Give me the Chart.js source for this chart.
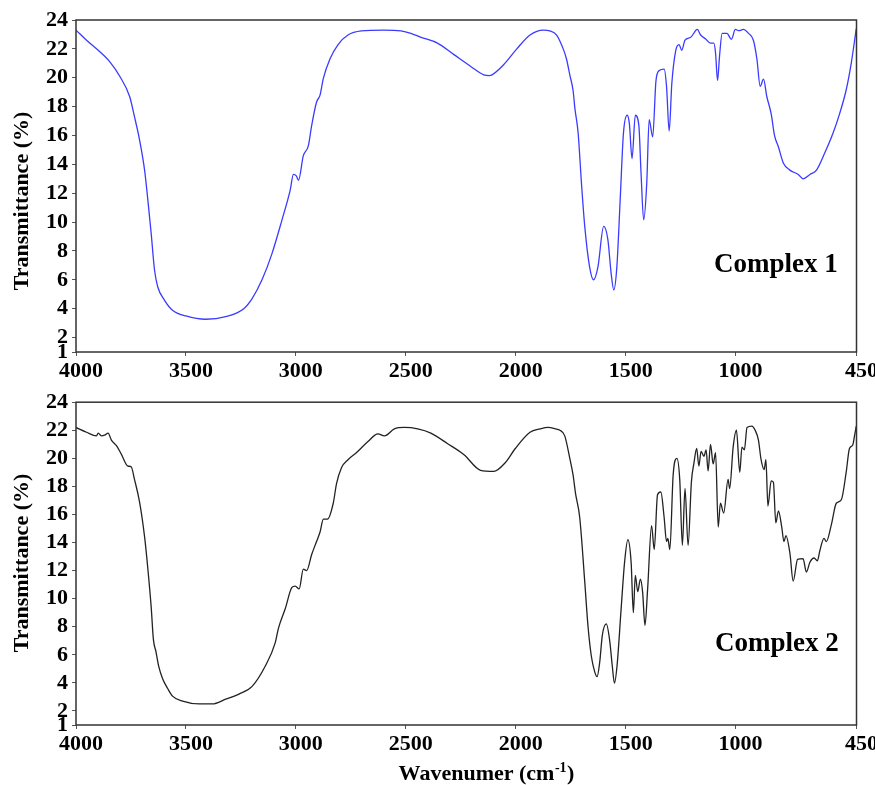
<!DOCTYPE html>
<html>
<head>
<meta charset="utf-8">
<script src="https://cdn.jsdelivr.net/npm/chart.js@4"></script>
<style>
  html, body { margin: 0; padding: 0; background: #fff; }
  #wrap { position: relative; width: 875px; height: 785px; overflow: hidden; }
  #c1 { position: absolute; left: 0; top: 0; }
  #c2 { position: absolute; left: 0; top: 385px; }
</style>
</head>
<body>
<div id="wrap">
  <canvas id="c1" width="875" height="385"></canvas>
  <canvas id="c2" width="875" height="400"></canvas>
</div>
<script>
// ---- data ----
const xTickValues = [4000, 3500, 3000, 2500, 2000, 1500, 1000, 450];
const yTickValues = [1, 2, 4, 6, 8, 10, 12, 14, 16, 18, 20, 22, 24];

const seriesName1 = "Complex 1";
const wavenumber1 = [4000,3952,3899,3846,3801,3756,3734,3711,3688,3673,3658,3643,3628,3598,3561,3500,3410,3319,3237,3199,3154,3109,3064,3026,3011,2998,2988,2966,2943,2928,2906,2890,2875,2845,2808,2763,2702,2600,2522,2477,2431,2356,2281,2206,2145,2120,2108,2055,1995,1935,1874,1845,1814,1784,1769,1754,1739,1731,1716,1701,1686,1664,1646,1626,1600,1581,1566,1554,1540,1525,1510,1493,1483,1471,1456,1440,1430,1418,1404,1393,1377,1362,1347,1325,1314,1302,1290,1272,1257,1245,1230,1204,1174,1159,1137,1114,1099,1091,1082,1073,1061,1039,1019,1001,986,964,941,919,903,888,873,858,838,823,805,783,753,715,693,662,632,594,557,527,497,474,451];
const transmittance1 = [23.3,22.6,21.9,21.1,20.1,18.7,17.3,15.7,13.6,11.5,9.2,6.7,5.5,4.6,3.9,3.5,3.27,3.45,4.0,4.7,6.0,7.8,10.1,12.2,13.3,13.2,12.9,14.6,15.3,16.7,18.3,18.8,19.95,21.3,22.3,22.96,23.24,23.3,23.24,23.07,22.8,22.4,21.6,20.8,20.2,20.15,20.2,20.9,22.0,22.96,23.3,23.25,22.96,22.0,21.3,20.2,19.1,17.9,16.15,12.7,9.7,6.9,6.0,6.9,9.7,8.8,6.45,5.3,6.9,11.5,16.15,17.4,16.8,14.4,17.4,16.7,13.4,10.15,12.7,17.1,15.9,19.8,20.5,20.6,19.4,16.3,19.6,21.9,22.3,21.9,22.6,22.8,23.35,22.96,22.7,22.4,22.4,21.7,19.8,21.5,23.07,23.07,22.66,23.35,23.26,23.35,23.07,22.6,21.3,19.4,19.9,18.7,17.5,16.0,15.2,14.1,13.6,13.3,13.0,13.3,13.6,14.8,16.15,17.5,19.15,21.0,23.4];

const seriesName2 = "Complex 2";
const wavenumber2 = [4000,3952,3907,3899,3885,3870,3854,3839,3816,3794,3764,3749,3734,3711,3688,3673,3658,3648,3636,3624,3606,3583,3561,3515,3440,3380,3319,3259,3199,3139,3094,3079,3048,3018,3003,2985,2966,2951,2928,2906,2890,2875,2856,2830,2815,2792,2763,2725,2672,2627,2597,2552,2506,2446,2386,2311,2235,2160,2100,2047,2002,1935,1889,1852,1820,1799,1777,1754,1739,1728,1709,1686,1671,1656,1641,1630,1618,1606,1588,1573,1561,1551,1539,1520,1505,1490,1475,1465,1456,1445,1433,1423,1412,1400,1382,1370,1355,1340,1325,1314,1308,1299,1284,1267,1254,1242,1230,1216,1201,1189,1177,1167,1157,1144,1134,1125,1114,1102,1091,1079,1069,1054,1034,1027,1011,996,981,971,960,948,926,911,896,884,870,862,853,838,828,817,805,790,780,771,753,738,718,693,678,662,643,628,617,598,587,564,542,519,497,482,467,459,451];
const transmittance2 = [22.2,21.86,21.6,21.8,21.6,21.65,21.8,21.3,20.9,20.3,19.45,19.4,18.5,16.9,14.4,12.1,9.4,7.1,6.2,5.2,4.3,3.6,3.06,2.7,2.5,2.5,2.84,3.2,3.75,5.2,6.85,7.9,9.3,10.8,10.9,10.7,12.1,12.0,13.15,14.07,14.75,15.67,15.67,16.8,18.2,19.35,19.9,20.4,21.2,21.75,21.6,22.1,22.2,22.1,21.8,21.06,20.26,19.15,19.07,19.7,20.7,21.86,22.1,22.2,22.1,22.0,21.6,20.0,18.8,17.5,15.8,11.2,8.0,5.9,4.8,4.44,5.47,7.4,8.2,7.07,5.24,3.98,5.24,9.4,12.57,14.2,12.57,9.0,11.66,10.5,11.4,10.5,8.1,10.7,15.2,13.5,17.4,17.6,15.8,14.07,14.3,13.5,18.8,20.0,18.5,13.8,17.85,13.8,18.3,19.7,20.7,19.45,20.5,20.14,20.6,19.1,21.0,19.6,20.4,15.1,16.8,16.1,18.5,17.85,20.8,22.0,19.0,20.8,20.6,22.2,22.3,22.0,21.3,19.9,19.2,19.9,16.6,18.4,18.3,15.4,16.25,15.1,14.07,14.5,13.26,11.25,12.8,12.85,11.9,12.6,12.9,12.7,13.4,14.3,14.07,15.3,16.8,17.05,19.0,20.7,20.95,21.6,22.3];

const yTitle = "Transmittance (%)";
const xTitleMain = "Wavenumer (cm";
const xTitleSup = "-1";
const xTitleEnd = ")";

// ---- drawing ----
const FONT = "'Liberation Serif', 'Times New Roman', serif";

function decorPlugin(opts) {
  return {
    id: 'decor',
    afterDraw(chart) {
      const ctx = chart.ctx;
      const a = chart.chartArea;
      ctx.save();
      // frame
      ctx.strokeStyle = '#333';
      ctx.lineWidth = 1.5;
      ctx.strokeRect(a.left, a.top, a.right - a.left, a.bottom - a.top);
      // y title
      ctx.fillStyle = '#000';
      ctx.font = 'bold 22px ' + FONT;
      ctx.translate(22, opts.yTitleY);
      ctx.rotate(-Math.PI / 2);
      ctx.textAlign = 'center';
      ctx.textBaseline = 'middle';
      ctx.fillText(yTitle, 0, 0);
      ctx.restore();
      // sample label
      ctx.save();
      ctx.fillStyle = '#000';
      ctx.font = 'bold 27px ' + FONT;
      ctx.textAlign = 'left';
      ctx.textBaseline = 'alphabetic';
      ctx.fillText(opts.label, opts.labelX, opts.labelY);
      // x title
      if (opts.xTitle) {
        const big = 'bold 22px ' + FONT, small = 'bold 14px ' + FONT;
        ctx.font = big; const w1 = ctx.measureText(xTitleMain).width;
        const w3 = ctx.measureText(xTitleEnd).width;
        ctx.font = small; const w2 = ctx.measureText(xTitleSup).width;
        let x = opts.xTitleX - (w1 + w2 + w3) / 2;
        const y = opts.xTitleY;
        ctx.font = big; ctx.fillText(xTitleMain, x, y); x += w1;
        ctx.font = small; ctx.fillText(xTitleSup, x + 0.5, y - 8); x += w2 + 1;
        ctx.font = big; ctx.fillText(xTitleEnd, x, y);
      }
      ctx.restore();
    }
  };
}

function makeChart(id, wn, tr, name, color, padTop, xAxisHeight, opts) {
  const pts = wn.map((w, i) => ({ x: w, y: tr[i] }));
  return new Chart(document.getElementById(id), {
    type: 'line',
    data: { datasets: [{
      label: name, data: pts, borderColor: color, borderWidth: 1.3,
      pointRadius: 0, fill: false, cubicInterpolationMode: 'monotone'
    }] },
    options: {
      responsive: false, animation: false, devicePixelRatio: 1,
      layout: { padding: { top: padTop, right: 13, left: 0, bottom: 0 } },
      plugins: { legend: { display: false }, tooltip: { enabled: false } },
      scales: {
        x: {
          type: 'linear', min: 450, max: 4000, reverse: true,
          afterBuildTicks: s => { s.ticks = xTickValues.map(v => ({ value: v })); },
          afterFit: s => { s.height = xAxisHeight; },
          grid: { drawOnChartArea: false, drawTicks: true, tickLength: 4, color: '#555' },
          border: { display: false },
          ticks: {
            autoSkip: false, maxRotation: 0, minRotation: 0, padding: 2, labelOffset: 5,
            color: '#000', font: { family: FONT, size: 22, weight: 'bold' },
            callback: v => String(v)
          }
        },
        y: {
          type: 'linear', min: 1, max: 24,
          afterBuildTicks: s => { s.ticks = yTickValues.map(v => ({ value: v })); },
          afterFit: s => { s.width = 76; },
          grid: { drawOnChartArea: false, drawTicks: true, tickLength: 4, color: '#555' },
          border: { display: false },
          ticks: {
            autoSkip: false, padding: 4, color: '#000',
            font: { family: FONT, size: 22, weight: 'bold' },
            callback: v => String(v)
          }
        }
      }
    },
    plugins: [decorPlugin(opts)]
  });
}

makeChart('c1', wavenumber1, transmittance1, seriesName1, '#3b3bff', 20, 33,
  { yTitleY: 201, label: seriesName1, labelX: 714, labelY: 272, xTitle: false });
makeChart('c2', wavenumber2, transmittance2, seriesName2, '#222', 5.5, 60,
  { yTitleY: 178, label: seriesName2, labelX: 715, labelY: 266, xTitle: true, xTitleX: 486, xTitleY: 395 });
</script>
</body>
</html>
